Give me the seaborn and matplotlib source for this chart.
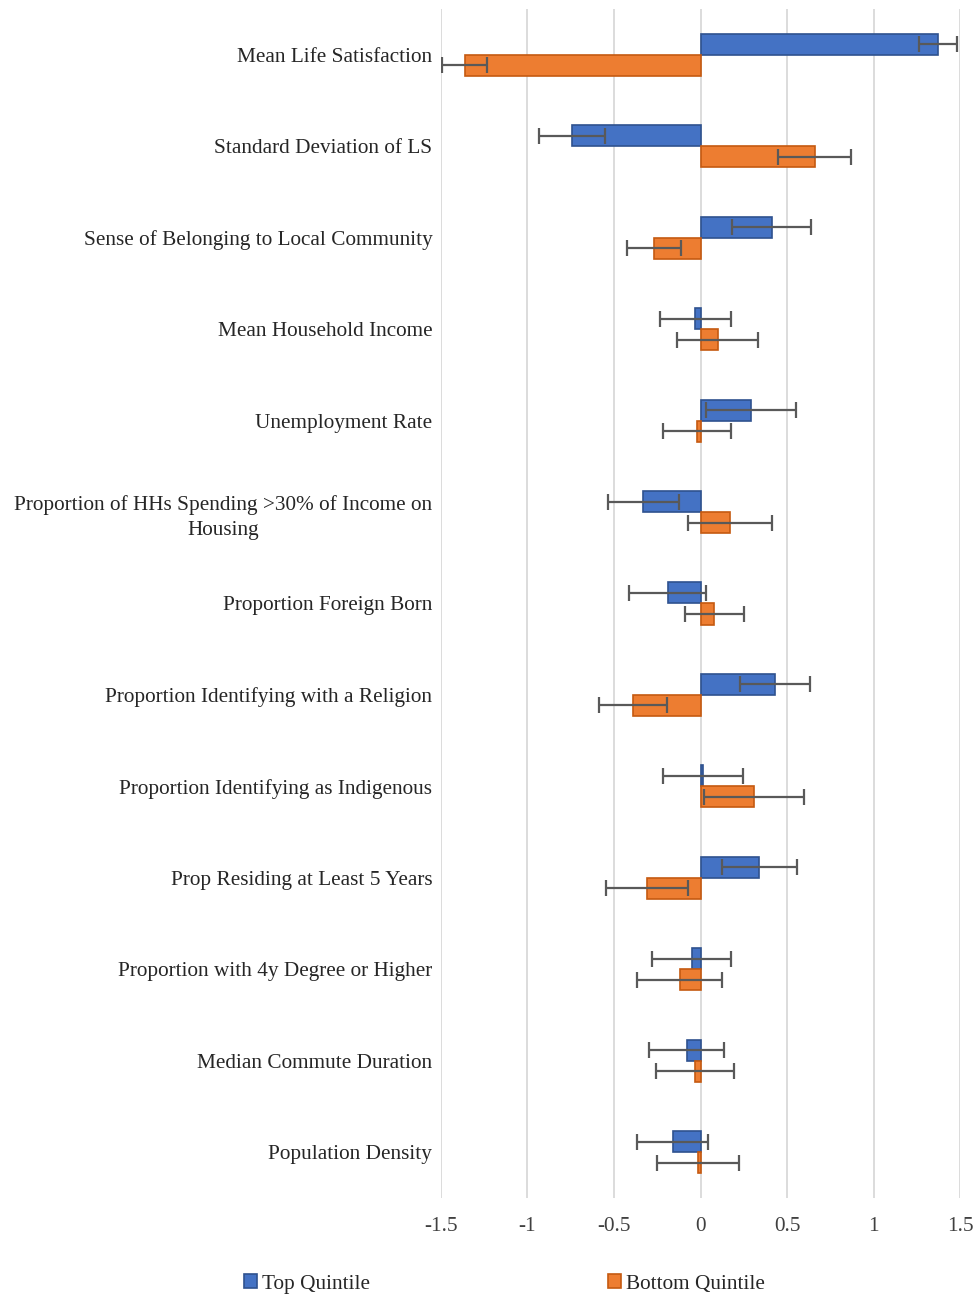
import matplotlib
matplotlib.use("Agg")
import matplotlib.pyplot as plt
import matplotlib.patches as mpatches
import pandas as pd
import seaborn as sns

categories = [
    "Mean Life Satisfaction",
    "Standard Deviation of LS",
    "Sense of Belonging to Local Community",
    "Mean Household Income",
    "Unemployment Rate",
    "Proportion of HHs Spending >30% of Income on\nHousing",
    "Proportion Foreign Born",
    "Proportion Identifying with a Religion",
    "Proportion Identifying as Indigenous",
    "Prop Residing at Least 5 Years",
    "Proportion with 4y Degree or Higher",
    "Median Commute Duration",
    "Population Density",
]
top_values = [1.37, -0.74, 0.41, -0.03, 0.29, -0.33, -0.19, 0.43, 0.015, 0.34, -0.05, -0.08, -0.16]
top_errors = [0.11, 0.19, 0.23, 0.205, 0.26, 0.207, 0.224, 0.20, 0.229, 0.215, 0.228, 0.215, 0.204]
bottom_values = [-1.36, 0.66, -0.27, 0.10, -0.02, 0.17, 0.08, -0.39, 0.31, -0.31, -0.12, -0.03, -0.015]
bottom_errors = [0.13, 0.21, 0.157, 0.233, 0.196, 0.244, 0.171, 0.197, 0.29, 0.238, 0.245, 0.226, 0.235]
series_names = ["Top Quintile", "Bottom Quintile"]
xticks = [-1.5, -1, -0.5, 0, 0.5, 1, 1.5]

df = pd.concat(
    [
        pd.DataFrame({"category": categories, "value": top_values, "err": top_errors, "series": series_names[0]}),
        pd.DataFrame({"category": categories, "value": bottom_values, "err": bottom_errors, "series": series_names[1]}),
    ],
    ignore_index=True,
)

sns.set_theme(style="white")
plt.rcParams["font.family"] = ["Liberation Serif", "DejaVu Serif"]

fill_colors = {"Top Quintile": "#4472C4", "Bottom Quintile": "#ED7D31"}
edge_colors = {"Top Quintile": "#2F528F", "Bottom Quintile": "#C55A11"}
fs = 15.3

fig = plt.figure(figsize=(9.75, 12.95), dpi=100)
ax = fig.add_axes([0.452, 0.075, 0.533, 0.918])

sns.barplot(
    data=df, x="value", y="category", hue="series", orient="h",
    palette=fill_colors, saturation=1, width=0.46, errorbar=None,
    legend=False, ax=ax, zorder=3,
)

# error bars on top of each bar, positions taken from the drawn patches
n = len(categories)
for i, patch in enumerate(ax.patches[: 2 * n]):
    s = series_names[i // n]
    patch.set_edgecolor(edge_colors[s])
    patch.set_linewidth(1.2)
    yc = patch.get_y() + patch.get_height() / 2
    err = df.loc[i, "err"]
    ax.errorbar(patch.get_width(), yc, xerr=err, fmt="none", ecolor="#595959",
                elinewidth=1.6, capsize=6, capthick=1.6, zorder=4)

ax.set_xlim(-1.5, 1.5)
ax.set_ylim(n - 0.5, -0.5)
ax.set_xticks(xticks)
ax.set_xticklabels([f"{t:g}" for t in xticks])
ax.xaxis.grid(True, color="#d9d9d9", linewidth=1.3, zorder=0)
ax.set_axisbelow(True)
for sp in ax.spines.values():
    sp.set_visible(False)
ax.set_xlabel("")
ax.set_ylabel("")
ax.tick_params(axis="x", length=0, pad=14, labelsize=fs, colors="#404040")
ax.tick_params(axis="y", length=0, pad=6, labelsize=fs, colors="#262626")
for lbl in ax.get_yticklabels():
    lbl.set_multialignment("center")
    lbl.set_linespacing(1.4)

handles = [
    mpatches.Patch(facecolor=fill_colors[s], edgecolor=edge_colors[s], linewidth=1.2, label=s)
    for s in series_names
]
fig.legend(
    handles=handles, loc="center", bbox_to_anchor=(0.517, 0.0085), ncol=2, frameon=False,
    fontsize=fs, handlelength=0.65, handleheight=0.65, handletextpad=0.2, columnspacing=11.2,
)

fig.savefig("out.png", dpi=100)
